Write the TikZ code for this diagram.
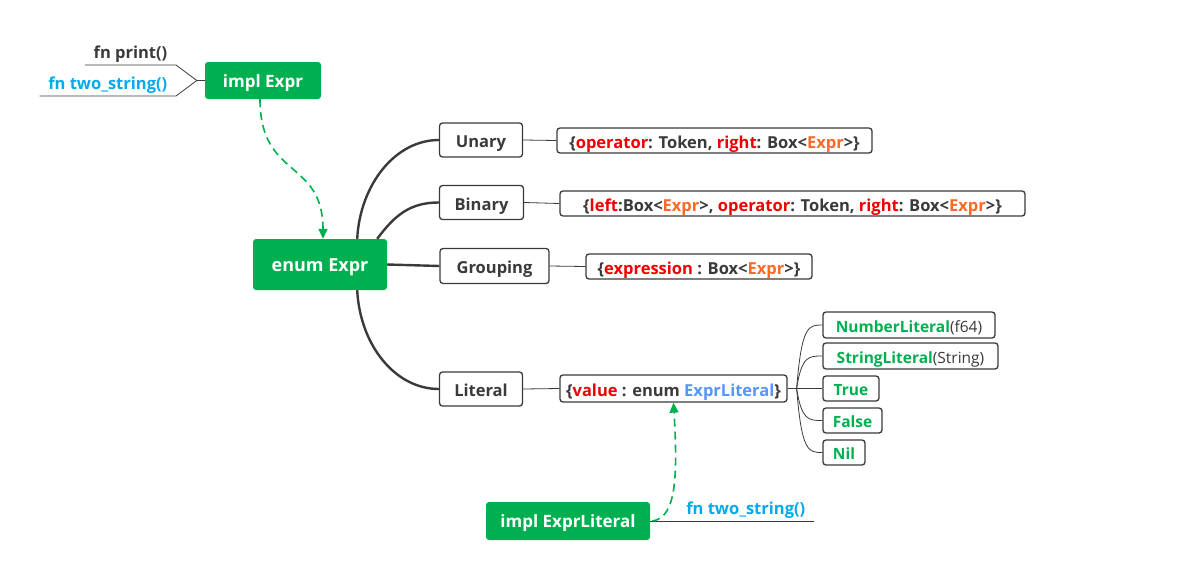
\documentclass[tikz,border=0pt]{standalone}
\usepackage{fontspec}
\setmainfont{Open Sans}
\usetikzlibrary{arrows.meta}
\definecolor{mgreen}{RGB}{0,176,80}
\definecolor{mdark}{RGB}{58,58,58}
\definecolor{mred}{RGB}{240,0,0}
\definecolor{morange}{RGB}{255,105,40}
\definecolor{mblue}{RGB}{85,150,250}
\definecolor{mcyan}{RGB}{0,170,235}
\newcommand{\fld}[1]{\textcolor{mred}{#1}}
\newcommand{\typ}[1]{\textcolor{morange}{#1}}

\begin{document}
\begin{tikzpicture}[x=1pt, y=-1pt, >=Stealth,
    font=\fontsize{16.5}{18}\selectfont\bfseries,
    main/.style={fill=mgreen, text=white, rounded corners=3pt, inner sep=0pt,
        text height=13.5pt, text depth=0pt, font=\fontsize{17}{19}\selectfont\bfseries},
    sub/.style={draw=mdark, line width=1.3pt, fill=white, text=mdark,
        rounded corners=3pt, inner sep=0pt, text height=15pt, text depth=0pt},
    kind/.style={sub, text=mgreen, font=\fontsize{15.5}{17}\selectfont\bfseries, text height=14pt},
    branch/.style={draw=mdark, line width=2.4pt},
    twig/.style={draw=mdark, line width=0.8pt},
    link/.style={draw=mgreen, line width=1.6pt, dash pattern=on 8pt off 5pt,
        -{Triangle[length=10pt,width=9pt]}},
    fnlabel/.style={inner xsep=8.5pt, inner ysep=2pt}]

    \useasboundingbox (0,0) rectangle (1187,563);

    % main boxes
    \node[main, minimum width=116, minimum height=37] (implexpr) at (263,80.5) {impl Expr};
    \node[main, minimum width=134, minimum height=51, font=\fontsize{18}{20}\selectfont\bfseries] (enumexpr) at (320,264.5) {enum Expr};
    \node[main, minimum width=164, minimum height=38] (impllit) at (568,521) {impl ExprLiteral};

    % variants
    \node[sub, minimum width=83, minimum height=34] (unary) at (481,140) {Unary};
    \node[sub, minimum width=84, minimum height=34] (binary) at (481.5,202.5) {Binary};
    \node[sub, minimum width=109, minimum height=35] (grouping) at (494.5,266) {Grouping};
    \node[sub, minimum width=83, minimum height=34] (literal) at (481,389) {Literal};

    % fields
    \node[sub, minimum width=315, minimum height=25] (unaryattr) at (714.5,140.5)
        {\{\fld{operator}: Token, \fld{right}: Box<\typ{Expr}>\}};
    \node[sub, minimum width=465, minimum height=25] (binaryattr) at (792.5,203.5)
        {\{\fld{left}:Box<\typ{Expr}>, \fld{operator}: Token, \fld{right}: Box<\typ{Expr}>\}};
    \node[sub, minimum width=226, minimum height=25] (groupattr) at (699,266.5)
        {\{\fld{expression} : Box<\typ{Expr}>\}};
    \node[sub, minimum width=227, minimum height=27] (valueattr) at (673.5,388.5)
        {\{\fld{value} : enum \textcolor{mblue}{ExprLiteral}\}};

    % literal kinds
    \node[kind, minimum width=172, minimum height=26] (numlit) at (909,325)
        {NumberLiteral{\mdseries\color{mdark}(f64)}};
    \node[kind, minimum width=175, minimum height=26] (strlit) at (910.5,356)
        {StringLiteral{\mdseries\color{mdark}(String)}};
    \node[kind, minimum width=56, minimum height=25] (truelit) at (851,388.5) {True};
    \node[kind, minimum width=59, minimum height=25] (falselit) at (852.5,420.5) {False};
    \node[kind, minimum width=42, minimum height=25] (nillit) at (844,452.5) {Nil};

    % methods
    \node[fnlabel, anchor=south east, text=mdark] (fnprint) at (176,65) {fn print()};
    \node[fnlabel, anchor=south east, text=mcyan] (fntwo) at (176,96) {fn two\_string()};
    \node[fnlabel, anchor=south east, text=mcyan] (fnlit) at (814,521) {fn two\_string()};

    \coordinate (ifork) at ([xshift=-8]implexpr.west);
    \draw[twig] (fnprint.south west) -- (fnprint.south east) -- (ifork) -- (implexpr.west);
    \draw[twig] (fntwo.south west) -- (fntwo.south east) -- (ifork);
    \draw[twig] (impllit.east) -- (fnlit.south east);

    % branches
    \draw[branch] ([xshift=-30]enumexpr.north east) .. controls (360,185) and (395,140) .. (unary.west);
    \draw[branch] ([xshift=-10]enumexpr.north east) .. controls (395,215) and (410,202.5) .. (binary.west);
    \draw[branch] (enumexpr.east) -- (grouping.west);
    \draw[branch] ([xshift=-30]enumexpr.south east) .. controls (360,345) and (395,389) .. (literal.west);

    \draw[twig] (unary.east) -- (unaryattr.west);
    \draw[twig] (binary.east) -- (binaryattr.west);
    \draw[twig] (grouping.east) -- (groupattr.west);
    \draw[twig] (literal.east) -- (valueattr.west);

    \coordinate (vfork) at ([xshift=9]valueattr.east);
    \draw[twig] (valueattr.east) -- (vfork);
    \foreach \c in {numlit,strlit,truelit,falselit,nillit}
        \draw[twig] (vfork) .. controls ([xshift=5]vfork |- \c.west) and ([xshift=12]vfork |- \c.west) .. (\c.west);

    % impl links
    \draw[link] ([xshift=-3]implexpr.south) .. controls +(0,80) and +(0,-80) .. ([xshift=3]enumexpr.north);
    \draw[link] ([xshift=2]impllit.east) .. controls +(25,-3) and +(4,70) .. (valueattr.south);

\end{tikzpicture}
\end{document}
